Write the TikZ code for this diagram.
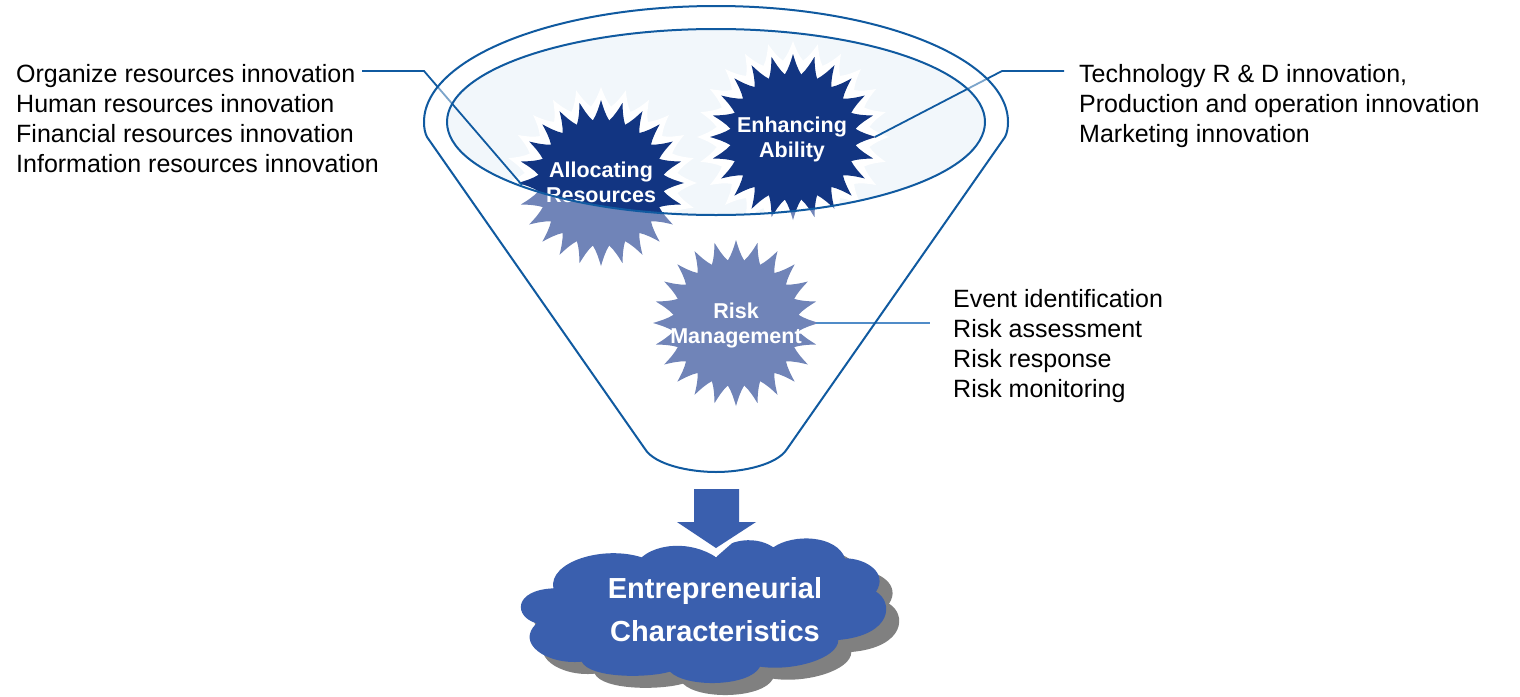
\documentclass[tikz,border=0pt]{standalone}
\usepackage{fontspec}
\setmainfont{Liberation Sans}
\definecolor{linecol}{RGB}{16,90,160}
\definecolor{riskline}{RGB}{80,140,200}
\definecolor{darkstar}{RGB}{18,53,130}
\definecolor{lightstar}{RGB}{112,132,184}
\definecolor{bowl}{RGB}{242,247,251}
\definecolor{cloudblue}{RGB}{58,95,174}
\definecolor{shadowgray}{RGB}{128,128,128}
\tikzset{
  listtext/.style={anchor=west,inner sep=0,align=left,font=\fontsize{25}{30}\selectfont},
  bursttext/.style={inner sep=0,align=center,text=white,font=\fontsize{21.5}{25}\selectfont\bfseries},
  cloudtext/.style={inner sep=0,align=center,text=white,font=\fontsize{29}{43}\selectfont\bfseries},
  funnelline/.style={draw=linecol,line width=2pt},
  leader/.style={draw=linecol,line width=1.8pt},
}
% centre, outer radius, inner radius, colour
\newcommand\spikyburst[4]{%
  \begin{scope}[shift={(#1)}]
    \fill[#4] (-7.5:#3) \foreach \a in {0,15,...,345} {
      .. controls ({\a-4}:{#3+.25*(#2-#3)}) and ({\a-1.8}:{#3+.6*(#2-#3)}) .. (\a:#2)
      .. controls ({\a+1.8}:{#3+.6*(#2-#3)}) and ({\a+4}:{#3+.25*(#2-#3)}) .. ({\a+7.5}:#3)
    } -- cycle;
  \end{scope}}
\def\cloudshape{(395,262) .. controls (440,222) and (540,210) .. (619,262)
  .. controls (630,215) and (730,190) .. (790,232)
  .. controls (850,190) and (980,195) .. (1005,265)
  .. controls (1070,265) and (1135,310) .. (1098,365)
  .. controls (1150,395) and (1150,495) .. (985,510)
  .. controls (985,565) and (850,605) .. (750,590)
  .. controls (720,650) and (530,655) .. (480,605)
  .. controls (410,625) and (240,625) .. (215,575)
  .. controls (110,585) and (15,520) .. (80,460)
  .. controls (10,440) and (10,360) .. (130,355)
  .. controls (115,275) and (280,225) .. (395,262) -- cycle}
\begin{document}
\begin{tikzpicture}[x=1pt,y=-1pt]
\useasboundingbox (0,0) rectangle (1520,696);
\fill[white] (0,0) rectangle (1520,696);
\coordinate (alloc) at (601,183);
\coordinate (enh) at (793,137);
\coordinate (risk) at (736,323);
% bowl fill
\fill[bowl] (716,122) ellipse [x radius=269,y radius=93];
% light bursts
\spikyburst{alloc}{83}{63}{lightstar}
\spikyburst{enh}{83}{63}{lightstar}
\spikyburst{risk}{83}{63}{lightstar}
% portion of the bursts inside the bowl
\begin{scope}
  \clip (716,122) ellipse [x radius=269,y radius=93];
  \spikyburst{alloc}{96}{77}{white}
  \spikyburst{enh}{96}{77}{white}
  \spikyburst{alloc}{83}{63}{darkstar}
  \spikyburst{enh}{83}{63}{darkstar}
\end{scope}
% connectors
\coordinate (lstart) at (362,71);
\coordinate (lknee) at (424,71);
\coordinate (rstart) at (1064,71);
\coordinate (rknee) at (1002,71);
\coordinate (rend) at (875,137);
\coordinate (lend) at (522,185);
\coordinate (rskstart) at (816,323);
\coordinate (rskend) at (930,323);
\draw[leader] (lstart) -- (lknee) -- (lend);
\draw[leader] (rstart) -- (rknee) -- (rend);
\draw[draw=riskline,line width=1.6pt] (rskstart) -- (rskend);
% fade the connectors between the two rims
\begin{scope}
  \clip (400,0) rectangle (1030,125);
  \fill[white,opacity=.45,even odd rule] (716,122) ellipse [x radius=291,y radius=115] (716,122) ellipse [x radius=269,y radius=93];
\end{scope}
% burst labels
\node[bursttext] (allocT) at (601,182) {Allocating\\Resources};
\node[bursttext] (enhT) at (792,139) {Enhancing\\Ability};
\node[bursttext] (riskT) at (736,325) {Risk\\Management};
% funnel
\draw[funnelline] (716,122) ellipse [x radius=269,y radius=93];
\draw[funnelline,line join=round] (424,122) .. controls (424,58) and (555,6) .. (716,6)
  .. controls (877,6) and (1008,58) .. (1008,122)
  .. controls (1008,128) and (1007,133) .. (1005,137) -- (787,449)
  .. controls (777,465) and (742,472) .. (716,472)
  .. controls (690,472) and (655,465) .. (645,449) -- (427,137)
  .. controls (425,133) and (424,128) .. cycle;
% cloud and arrow
\begin{scope}[xshift=510pt,yshift=-470pt,x=0.33333pt,y=-0.33333pt]
  \fill[shadowgray,xshift=13pt,yshift=-12pt] \cloudshape;
  \fill[cloudblue] \cloudshape;
\end{scope}
\fill[white] (677,522) -- (756,522) -- (716,557) -- cycle;
\fill[cloudblue] (694,489) -- (739,489) -- (739,522) -- (756,522) -- (716,548) -- (677,522) -- (694,522) -- cycle;
\node[cloudtext] (cloudT) at (715,610) {Entrepreneurial\\Characteristics};
% lists
\node[listtext] (leftL) at (16,119) {Organize resources innovation\\Human resources innovation\\Financial resources innovation\\Information resources innovation};
\node[listtext] (rightL) at (1079,106.5) {Technology R \& D innovation,\\Production and operation innovation\\Marketing innovation};
\node[listtext] (riskL) at (953,346.5) {Event identification\\Risk assessment\\Risk response\\Risk monitoring};
\end{tikzpicture}
\end{document}
